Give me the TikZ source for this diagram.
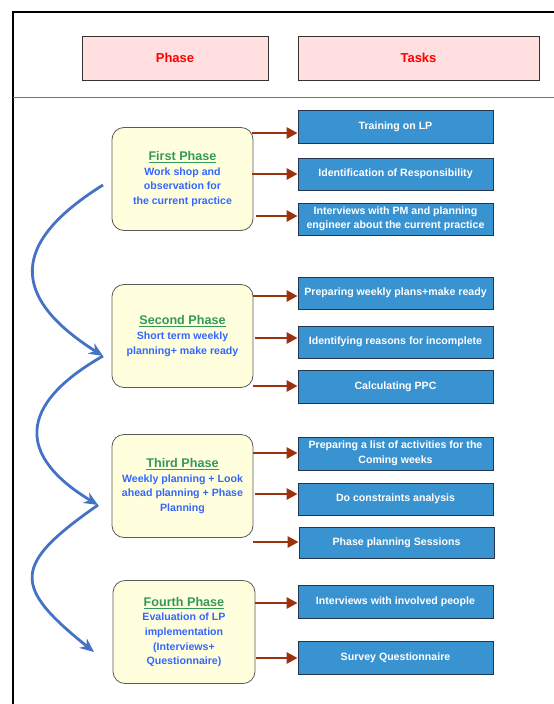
\documentclass[tikz,border=0pt]{standalone}
\usepackage{fontspec}
\setmainfont{Liberation Sans}
\usetikzlibrary{arrows.meta,shadows}
\definecolor{hdrfill}{RGB}{255,223,224}
\definecolor{hdrtext}{RGB}{255,0,0}
\definecolor{taskfill}{RGB}{57,147,208}
\definecolor{taskdraw}{RGB}{35,55,80}
\definecolor{phasefill}{RGB}{255,255,222}
\definecolor{phasedraw}{RGB}{90,90,90}
\definecolor{titlegreen}{RGB}{51,153,90}
\definecolor{descblue}{RGB}{51,102,255}
\definecolor{arrbrown}{RGB}{155,50,15}
\definecolor{curveblue}{RGB}{68,114,196}
\tikzset{
  hdr/.style={draw=black!80, line width=0.8pt, fill=hdrfill, text=hdrtext, inner sep=0pt,
    minimum height=44pt, font=\fontsize{13}{15}\selectfont\bfseries},
  taskbox/.style={draw=taskdraw, line width=0.8pt, fill=taskfill, text=white, inner sep=0pt,
    minimum width=195pt, minimum height=32pt, align=center,
    font=\fontsize{10.6}{14.5}\selectfont\bfseries,
    drop shadow={shadow xshift=1pt, shadow yshift=-1pt, fill=black!35, opacity=0.6}},
  phasebox/.style={draw=phasedraw, line width=0.8pt, fill=phasefill, rounded corners=12pt,
    inner sep=0pt, minimum width=141pt, minimum height=103pt, align=center,
    text=descblue, font=\fontsize{10.6}{14.6}\selectfont\bfseries},
  arr/.style={draw=arrbrown, line width=2.8pt, -{Triangle[length=11pt,width=11pt]}},
  flow/.style={draw=curveblue, line width=2.8pt, -{Stealth[length=14pt,width=12pt,inset=4.5pt]}},
}
\newcommand{\ttl}[1]{{\color{titlegreen}\fontsize{12.6}{15}\selectfont\underline{#1}}}
\begin{document}
\begin{tikzpicture}[x=1pt,y=-1pt]
\useasboundingbox (0,0) rectangle (554,704);
% frame
\draw[black, line width=2.4pt] (13,706) -- (13,12) -- (556,12);
\draw[black!55, line width=1pt] (13,97) -- (556,97);
% header
\node[hdr, minimum width=186pt] (h1) at (175,58) {Phase};
\node[hdr, minimum width=241pt] (h2) at (418.5,58) {Tasks};
% phases
\node[phasebox] (p1) at (182.5,179) {\ttl{First Phase}\\Work shop and\\observation for\\the current practice};
\node[phasebox] (p2) at (182.5,336) {\ttl{Second Phase}\\Short term weekly\\planning+ make ready};
\node[phasebox] (p3) at (182.5,486) {\ttl{Third Phase}\\Weekly planning + Look\\ahead planning + Phase\\Planning};
\node[phasebox, minimum width=142pt] (p4) at (184,632) {\ttl{Fourth Phase}\\Evaluation of LP\\implementation\\(Interviews+\\Questionnaire)};
% tasks
\node[taskbox, minimum height=33pt] (t1) at (395.5,126.5) {Training on LP};
\node[taskbox] (t2) at (395.5,174) {Identification of Responsibility};
\node[taskbox] (t3) at (395.5,219) {Interviews with PM and planning\\engineer about the current practice};
\node[taskbox] (t4) at (395.5,293) {Preparing weekly plans+make ready};
\node[taskbox] (t5) at (395.5,342) {Identifying reasons for incomplete};
\node[taskbox, minimum height=33pt] (t6) at (395.5,386.5) {Calculating PPC};
\node[taskbox, minimum height=33pt] (t7) at (395.5,453.5) {Preparing a list of activities for the\\Coming weeks};
\node[taskbox] (t8) at (395.5,499) {Do constraints analysis};
\node[taskbox, minimum height=31pt] (t9) at (396.5,542.5) {Phase planning Sessions};
\node[taskbox, minimum height=33pt] (t10) at (395.5,601.5) {Interviews with involved people};
\node[taskbox, minimum height=33pt] (t11) at (395.5,657.5) {Survey Questionnaire};
% arrow starts
\coordinate (a1) at (252,133);
\coordinate (a2) at (252,174);
\coordinate (a3) at (256,216);
\coordinate (a4) at (253,296);
\coordinate (a5) at (255,338);
\coordinate (a6) at (253,386);
\coordinate (a7) at (253,453);
\coordinate (a8) at (255,494);
\coordinate (a9) at (253,542);
\coordinate (a10) at (255,603);
\coordinate (a11) at (256,658);
\draw[arr] (a1) -- (a1 -| t1.west);
\draw[arr] (a2) -- (a2 -| t2.west);
\draw[arr] (a3) -- (a3 -| t3.west);
\draw[arr] (a4) -- (a4 -| t4.west);
\draw[arr] (a5) -- (a5 -| t5.west);
\draw[arr] (a6) -- (a6 -| t6.west);
\draw[arr] (a7) -- (a7 -| t7.west);
\draw[arr] (a8) -- (a8 -| t8.west);
\draw[arr] (a9) -- (a9 -| t9.west);
\draw[arr] (a10) -- (a10 -| t10.west);
\draw[arr] (a11) -- (a11 -| t11.west);
% flow curves
\coordinate (c1) at (103,185);
\coordinate (c2) at (103,356);
\coordinate (c3) at (98,505);
\coordinate (c4) at (94,652);
\draw[flow] (c1) .. controls (10,243) and (10,297) .. (c2);
\draw[flow] (c2) .. controls (17,405) and (17,456) .. (c3);
\draw[flow] (c3) .. controls (12,565) and (12,586) .. (c4);
\end{tikzpicture}
\end{document}
